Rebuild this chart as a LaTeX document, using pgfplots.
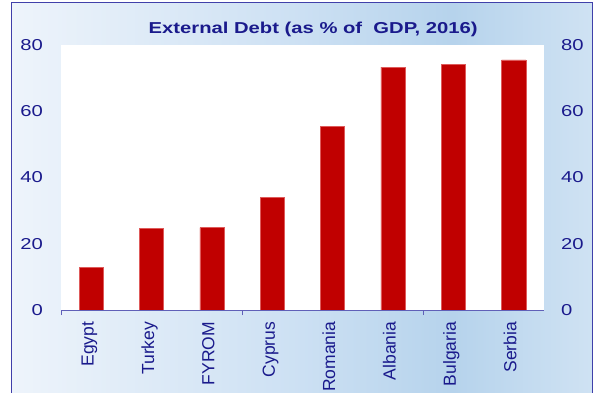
\documentclass[border=0pt]{standalone}
\usepackage{pgfplots}
\pgfplotsset{compat=1.18}
\usepackage{fontspec}
\setmainfont{Liberation Sans}
\newfontfamily\widefont{Liberation Sans}[FakeStretch=1.28]
\definecolor{navy}{RGB}{26,26,140}
\definecolor{barred}{RGB}{192,0,0}
\definecolor{baredge}{RGB}{222,90,90}
\definecolor{axisblue}{RGB}{96,96,184}
\definecolor{frameblue}{RGB}{64,64,170}
\definecolor{bgA}{HTML}{EEF4FB}
\definecolor{bgB}{HTML}{CCE0F3}
\definecolor{bgC}{HTML}{B6D3EC}
\definecolor{bgD}{HTML}{CFE2F3}
\pgfdeclarehorizontalshading{bgshade}{100bp}{color(0bp)=(bgA); color(25bp)=(bgA); color(50bp)=(bgB); color(63bp)=(bgC); color(75bp)=(bgD); color(100bp)=(bgD)}
\begin{document}
\begin{tikzpicture}
\useasboundingbox (0,0) rectangle (593bp,393bp);
\begin{scope}
\clip (0,0) rectangle (593bp,393bp);
\shade[shading=bgshade] (11bp,-10bp) rectangle (592bp,390bp);
\draw[frameblue, line width=1bp] (11bp,-10bp) -- (11bp,390bp) -- (592bp,390bp) -- (592bp,-10bp);
\end{scope}
\begin{axis}[
  at={(61bp,83bp)}, anchor=south west,
  scale only axis, width=483bp, height=265bp,
  xmin=-0.5, xmax=7.5, ymin=0, ymax=80,
  axis background/.style={fill=white},
  axis x line=bottom, axis y line=left,
  x axis line style={-, draw=axisblue, line width=1bp},
  y axis line style={draw=none},
  xtick={0,...,7},
  xticklabels={Egypt,Turkey,FYROM,Cyprus,Romania,Albania,Bulgaria,Serbia},
  xticklabel style={rotate=90, anchor=east, inner xsep=11.7bp, inner ysep=0pt,
    font=\fontsize{17.5bp}{20bp}\selectfont, text=navy, text height=0.716em, text depth=0.21em},
  major tick length=0pt,
  extra x ticks={-0.5,2.5,5.5}, extra x tick labels={},
  extra x tick style={major tick length=5bp, tick align=outside, tick style={draw=axisblue, line width=1bp}},
  ytick={0,20,...,80},
  yticklabel style={anchor=east, inner xsep=18bp, inner ysep=0pt,
    font=\widefont\fontsize{15.8bp}{18bp}\selectfont, text=navy},
  /pgf/number format/assume math mode=true,
  ybar, bar width=0.4,
]
\addplot[fill=barred, draw=baredge, line width=0.7bp] coordinates {(0,12.8) (1,24.5) (2,24.9) (3,34.1) (4,55.5) (5,73.3) (6,74.2) (7,75.5)};
\end{axis}
\begin{axis}[
  at={(61bp,83bp)}, anchor=south west,
  scale only axis, width=483bp, height=265bp,
  xmin=-0.5, xmax=7.5, ymin=0, ymax=80,
  axis y line*=right, axis x line=none,
  y axis line style={draw=none},
  major tick length=0pt,
  ytick={0,20,...,80},
  yticklabel style={anchor=west, inner xsep=17bp, inner ysep=0pt,
    font=\widefont\fontsize{15.8bp}{18bp}\selectfont, text=navy},
  /pgf/number format/assume math mode=true,
]
\end{axis}
\node[anchor=base, text=navy, inner sep=0pt, font=\widefont\bfseries\fontsize{15.8bp}{18bp}\selectfont] at (313.2bp,359bp) {External Debt (as \% of~~GDP, 2016)};
\end{tikzpicture}
\end{document}
